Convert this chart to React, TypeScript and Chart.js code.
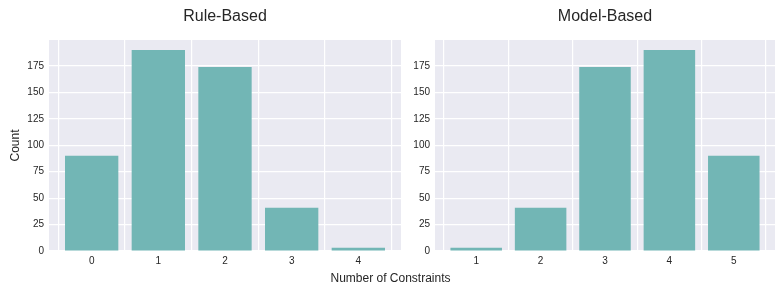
import React, { useEffect, useRef } from "react";
import { Chart, registerables } from "chart.js";

Chart.register(...registerables);

const ruleCategories = ["0", "1", "2", "3", "4"];
const ruleCounts = [90, 190, 174, 41, 3];
const modelCategories = ["1", "2", "3", "4", "5"];
const modelCounts = [3, 41, 174, 190, 90];
const yTicks = [0, 25, 50, 75, 100, 125, 150, 175];

const FONT = "'Liberation Sans', Arial, sans-serif";
const TEXT = "#262626";
const BAR = "#72B6B5";
const BG = "#EAEAF2";

const bgPlugin = {
  id: "bgPlot",
  beforeDraw(chart: any) {
    const { ctx, chartArea } = chart;
    ctx.save();
    ctx.fillStyle = BG;
    ctx.fillRect(chartArea.left, chartArea.top, chartArea.right - chartArea.left, chartArea.bottom - chartArea.top);
    ctx.restore();
  },
};

function makeConfig(title: string, cats: string[], vals: number[], yWidth: number, showYTitle: boolean) {
  const n = cats.length;
  return {
    type: "bar" as const,
    data: {
      datasets: [
        {
          data: vals.map((v, i) => ({ x: i, y: v })),
          backgroundColor: BAR,
          borderWidth: 0,
          barPercentage: 0.8,
          categoryPercentage: 1.0,
        },
      ],
    },
    options: {
      animation: false,
      responsive: false,
      devicePixelRatio: 1,
      layout: { padding: { left: 0, right: 1, top: 0, bottom: 0 } },
      plugins: {
        legend: { display: false },
        tooltip: { enabled: false },
        title: {
          display: true,
          text: title,
          fullSize: false,
          color: TEXT,
          font: { family: FONT, size: 16, weight: "normal", lineHeight: 1.2 },
          padding: { top: 7, bottom: 13.8 },
        },
      },
      scales: {
        x: {
          type: "linear",
          min: -0.64,
          max: n - 1 + 0.64,
          offset: false,
          afterBuildTicks: (scale: any) => {
            scale.ticks = cats.map((_, i) => ({ value: i }));
          },
          afterFit: (scale: any) => {
            scale.height = 38;
            scale.paddingLeft = 0;
            scale.paddingRight = 0;
          },
          ticks: {
            autoSkip: false,
            maxRotation: 0,
            padding: 4,
            color: TEXT,
            font: { family: FONT, size: 10 },
            callback: (v: any) => cats[Math.round(v)] ?? "",
          },
          grid: { color: "#FFFFFF", lineWidth: 1.2, drawTicks: false },
          border: { display: false },
        },
        y: {
          type: "linear",
          min: 0,
          max: 199.5,
          afterBuildTicks: (scale: any) => {
            scale.ticks = yTicks.map((v) => ({ value: v }));
          },
          afterFit: (scale: any) => {
            scale.width = yWidth;
            scale.paddingTop = 0;
            scale.paddingBottom = 0;
          },
          ticks: {
            padding: 5,
            color: TEXT,
            font: { family: FONT, size: 10 },
          },
          title: {
            display: showYTitle,
            text: "Count",
            color: TEXT,
            font: { family: FONT, size: 12 },
            padding: { top: 8, bottom: 0 },
          },
          grid: { color: "#FFFFFF", lineWidth: 1.2, drawTicks: false },
          border: { display: false },
        },
      },
    },
    plugins: [bgPlugin],
  };
}

export default function App() {
  const leftRef = useRef<HTMLCanvasElement>(null);
  const rightRef = useRef<HTMLCanvasElement>(null);

  useEffect(() => {
    document.body.style.margin = "0";
    const c1 = new Chart(leftRef.current as HTMLCanvasElement, makeConfig("Rule-Based", ruleCategories, ruleCounts, 49, true) as any);
    const c2 = new Chart(rightRef.current as HTMLCanvasElement, makeConfig("Model-Based", modelCategories, modelCounts, 33, false) as any);
    return () => {
      c1.destroy();
      c2.destroy();
    };
  }, []);

  return (
    <div style={{ position: "relative", width: 776, height: 289, background: "#fff", overflow: "hidden" }}>
      <canvas ref={leftRef} width={402} height={289} style={{ position: "absolute", left: 0, top: 0, width: 402, height: 289 }} />
      <canvas ref={rightRef} width={374} height={289} style={{ position: "absolute", left: 402, top: 0, width: 374, height: 289 }} />
      <div
        style={{
          position: "absolute",
          left: 0,
          width: 781,
          top: 271,
          textAlign: "center",
          fontFamily: FONT,
          fontSize: 12,
          color: TEXT,
          lineHeight: "14px",
        }}
      >
        Number of Constraints
      </div>
    </div>
  );
}
